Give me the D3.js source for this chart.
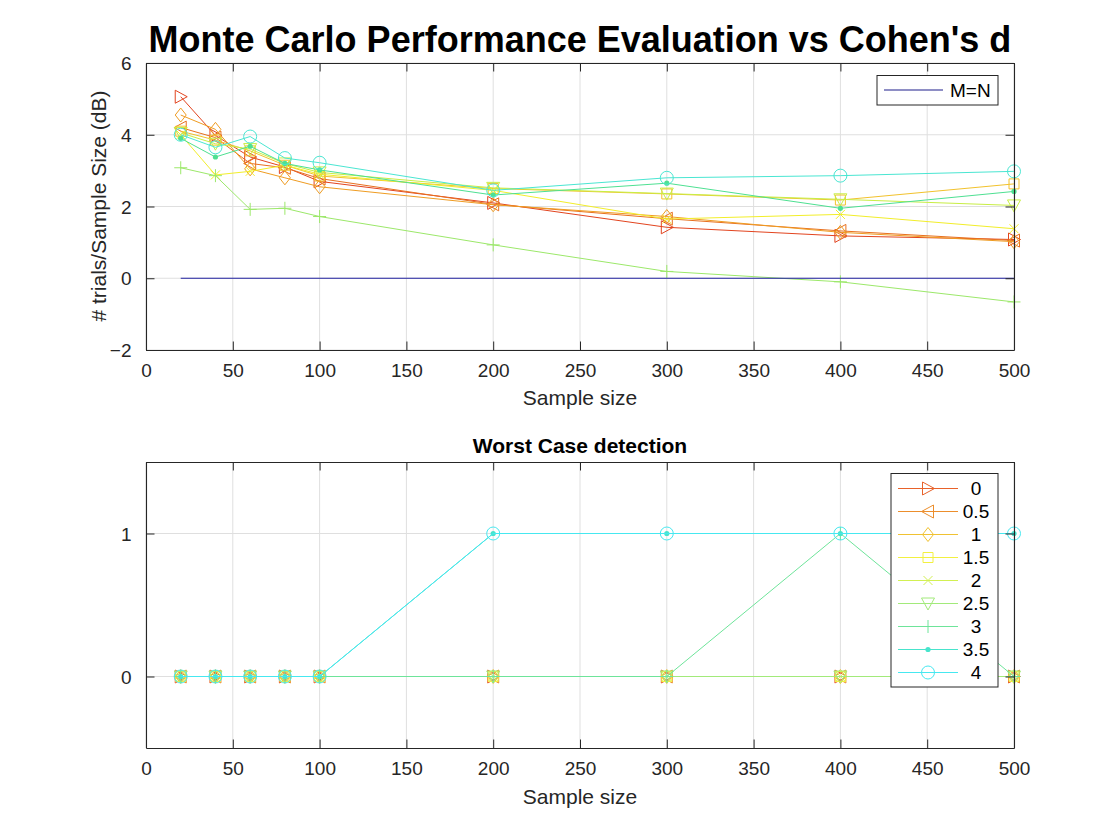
<!DOCTYPE html>
<html><head><meta charset="utf-8">
<script src="https://cdn.jsdelivr.net/npm/d3@7"></script>
<style>body{margin:0;background:#fff}svg{display:block}text{font-family:"Liberation Sans",Arial,sans-serif}</style>
</head><body>
<svg id="c" width="1120" height="840"></svg>
<script>
// ---------- data ----------
const sampleSizes = [20, 40, 60, 80, 100, 200, 300, 400, 500];
const cohenD = ["0", "0.5", "1", "1.5", "2", "2.5", "3", "3.5", "4"];
const markers = ["right", "left", "diamond", "square", "x", "down", "plus", "dot", "circle"];
const topColors = ["#e2441f", "#e8701f", "#ef9c22", "#f2c22c", "#f2ee2a", "#c8ee44", "#9ce86a", "#4ee092", "#4ae6d2"];
const botColors = ["#e8622a", "#ec8e2c", "#f0c232", "#f2f040", "#d2f052", "#a2ea7a", "#6ee49a", "#48e4cc", "#46e8f0"];
// top plot: # trials / sample size (dB)
const top0 = [5.06, 3.98, 3.38, 3.10, 2.70, 2.10, 1.42, 1.18, 1.08];
const top05 = [4.20, 3.92, 3.20, 3.08, 2.78, 2.06, 1.66, 1.32, 1.05];
const top1 = [4.55, 4.15, 3.05, 2.80, 2.55, 2.05, 1.72, 1.28, 1.02];
const top15 = [4.10, 3.85, 3.55, 3.15, 2.85, 2.50, 2.35, 2.18, 2.63];
const top2 = [4.00, 2.88, 2.98, 3.15, 2.90, 2.45, 1.65, 1.78, 1.38];
const top25 = [4.05, 3.75, 3.60, 3.20, 2.95, 2.52, 2.36, 2.20, 2.03];
const top3 = [3.08, 2.86, 1.92, 1.95, 1.72, 0.93, 0.19, -0.10, -0.66];
const top35 = [3.90, 3.38, 3.68, 3.20, 3.02, 2.32, 2.65, 1.95, 2.42];
const top4 = [4.00, 3.65, 3.95, 3.35, 3.22, 2.45, 2.80, 2.86, 2.98];
const topSeries = [top0, top05, top1, top15, top2, top25, top3, top35, top4];
const refLine = [0, 0]; // M=N from 20 to 500
const refX = [20, 500];
// bottom plot: worst case detection
const bot0 = [0, 0, 0, 0, 0, 0, 0, 0, 0];
const bot05 = [0, 0, 0, 0, 0, 0, 0, 0, 0];
const bot1 = [0, 0, 0, 0, 0, 0, 0, 0, 0];
const bot15 = [0, 0, 0, 0, 0, 0, 0, 0, 0];
const bot2 = [0, 0, 0, 0, 0, 0, 0, 0, 0];
const bot25 = [0, 0, 0, 0, 0, 0, 0, 0, 0];
const bot3 = [0, 0, 0, 0, 0, 0, 0, 1, 0];
const bot35 = [0, 0, 0, 0, 0, 1, 1, 1, 1];
const bot4 = [0, 0, 0, 0, 0, 1, 1, 1, 1];
const botSeries = [bot0, bot05, bot1, bot15, bot2, bot25, bot3, bot35, bot4];
const xTicks = [0, 50, 100, 150, 200, 250, 300, 350, 400, 450, 500];
const yTicksTop = [-2, 0, 2, 4, 6];
const yTicksBot = [0, 1];

// ---------- drawing ----------
const svg = d3.select("#c");
const axisColor = "#262626", gridColor = "#dfdfdf";

function marker(g, type, x, y, color) {
  const s = 6.5;
  let p;
  switch (type) {
    case "right": p = `M${x - s + 1},${y - s}L${x + s},${y}L${x - s + 1},${y + s}Z`; break;
    case "left": p = `M${x + s - 1},${y - s}L${x - s},${y}L${x + s - 1},${y + s}Z`; break;
    case "down": p = `M${x - s},${y - s + 1}L${x + s},${y - s + 1}L${x},${y + s}Z`; break;
    case "diamond": p = `M${x},${y - s - 0.5}L${x + s - 1},${y}L${x},${y + s + 0.5}L${x - s + 1},${y}Z`; break;
    case "square": p = `M${x - 5},${y - 5}h10v10h-10Z`; break;
    case "x": p = `M${x - 4.5},${y - 4.5}L${x + 4.5},${y + 4.5}M${x - 4.5},${y + 4.5}L${x + 4.5},${y - 4.5}`; break;
    case "plus": p = `M${x - 6.5},${y}H${x + 6.5}M${x},${y - 6.5}V${y + 6.5}`; break;
  }
  if (type === "circle") {
    g.append("circle").attr("cx", x).attr("cy", y).attr("r", 6.5).attr("fill", "none").attr("stroke", color).attr("stroke-width", 1);
  } else if (type === "dot") {
    g.append("circle").attr("cx", x).attr("cy", y).attr("r", 2.6).attr("fill", color);
  } else {
    g.append("path").attr("d", p).attr("fill", "none").attr("stroke", color).attr("stroke-width", 1);
  }
}

function drawGrid(x, y, yTicks) {
  const [x0, x1] = x.range(), [y0, y1] = y.range();
  const g = svg.append("g");
  g.selectAll(".gx").data(xTicks).join("line")
    .attr("x1", d => x(d)).attr("x2", d => x(d)).attr("y1", y0).attr("y2", y1)
    .attr("stroke", gridColor).attr("stroke-width", 1);
  g.selectAll(".gy").data(yTicks).join("line")
    .attr("x1", x0).attr("x2", x1).attr("y1", d => y(d)).attr("y2", d => y(d))
    .attr("stroke", gridColor).attr("stroke-width", 1);
}

function drawFrame(x, y, yTicks, fmtY) {
  const [x0, x1] = x.range(), [y0, y1] = y.range();
  const g = svg.append("g");
  const tl = 8.5;
  const bottom = g.append("g").attr("transform", `translate(0,${y0})`)
    .call(d3.axisBottom(x).tickValues(xTicks).tickSize(-tl).tickPadding(tl + 5).tickSizeOuter(0));
  g.append("g").attr("transform", `translate(0,${y1})`)
    .call(d3.axisTop(x).tickValues(xTicks).tickSize(-tl).tickFormat("").tickSizeOuter(0));
  const left = g.append("g").attr("transform", `translate(${x0},0)`)
    .call(d3.axisLeft(y).tickValues(yTicks).tickSize(-tl).tickPadding(tl + 6).tickFormat(fmtY).tickSizeOuter(0));
  g.append("g").attr("transform", `translate(${x1},0)`)
    .call(d3.axisRight(y).tickValues(yTicks).tickSize(-tl).tickFormat("").tickSizeOuter(0));
  g.selectAll(".domain").attr("stroke", axisColor).attr("stroke-width", 1.1);
  g.selectAll(".tick line").attr("stroke", axisColor);
  g.selectAll(".tick text").attr("font-size", 19).attr("fill", axisColor)
    .attr("font-family", '"Liberation Sans",Arial,sans-serif');
  left.selectAll(".tick text").attr("dy", "0.35em");
  bottom.selectAll(".tick text").attr("dy", "0.71em");
}

function drawSeries(x, y, series, colors) {
  const g = svg.append("g");
  const line = d3.line().x((d, i) => x(sampleSizes[i])).y(d => y(d));
  series.forEach((vals, k) => {
    g.append("path").attr("d", line(vals)).attr("fill", "none").attr("stroke", colors[k]).attr("stroke-width", 1);
    vals.forEach((v, i) => marker(g, markers[k], x(sampleSizes[i]), y(v), colors[k]));
  });
}

// ---------- top plot ----------
const xT = d3.scaleLinear().domain([0, 500]).range([146, 1014]);
const yT = d3.scaleLinear().domain([-2, 6]).range([350, 63]);
drawGrid(xT, yT, yTicksTop);
drawSeries(xT, yT, topSeries, topColors);
svg.append("path")
  .attr("d", d3.line().x((d, i) => xT(refX[i])).y(d => yT(d))(refLine))
  .attr("stroke", "#2020a0").attr("stroke-width", 1.1).attr("fill", "none");
drawFrame(xT, yT, yTicksTop, d3.format("d"));

// top legend
const lg1 = svg.append("g");
lg1.append("rect").attr("x", 877).attr("y", 75.5).attr("width", 121).attr("height", 29.5)
  .attr("fill", "#fff").attr("stroke", axisColor).attr("stroke-width", 1);
lg1.append("line").attr("x1", 884).attr("x2", 943).attr("y1", 90).attr("y2", 90).attr("stroke", "#1e1e8c").attr("stroke-width", 1.1);
lg1.append("text").attr("x", 950).attr("y", 90).attr("dy", "0.35em").attr("font-size", 19).attr("fill", "#000").text("M=N");

// titles / labels top
svg.append("text").attr("x", 580).attr("y", 52).attr("text-anchor", "middle")
  .attr("font-size", 36).attr("font-weight", "bold").attr("fill", "#000")
  .text("Monte Carlo Performance Evaluation vs Cohen's d");
svg.append("text").attr("x", 580).attr("y", 405).attr("text-anchor", "middle").attr("font-size", 21).attr("fill", axisColor).text("Sample size");
svg.append("text").attr("transform", "translate(106,206) rotate(-90)").attr("text-anchor", "middle")
  .attr("font-size", 21).attr("fill", axisColor).text("# trials/Sample Size (dB)");

// ---------- bottom plot ----------
const xB = d3.scaleLinear().domain([0, 500]).range([146, 1014]);
const yB = d3.scaleLinear().domain([-0.5, 1.5]).range([748, 462]);
drawGrid(xB, yB, yTicksBot);
drawSeries(xB, yB, botSeries, botColors);
drawFrame(xB, yB, yTicksBot, d3.format("d"));

svg.append("text").attr("x", 580).attr("y", 453).attr("text-anchor", "middle")
  .attr("font-size", 21).attr("font-weight", "bold").attr("fill", "#000").text("Worst Case detection");
svg.append("text").attr("x", 580).attr("y", 804).attr("text-anchor", "middle").attr("font-size", 21).attr("fill", axisColor).text("Sample size");

// bottom legend
const lg2 = svg.append("g");
lg2.append("rect").attr("x", 891).attr("y", 473.5).attr("width", 107).attr("height", 213.5)
  .attr("fill", "#fff").attr("stroke", axisColor).attr("stroke-width", 1);
cohenD.forEach((lab, k) => {
  const yy = 488.5 + k * 23;
  lg2.append("line").attr("x1", 898).attr("x2", 958).attr("y1", yy).attr("y2", yy).attr("stroke", botColors[k]).attr("stroke-width", 1);
  marker(lg2, markers[k], 928, yy, botColors[k]);
  lg2.append("text").attr("x", 976).attr("y", yy).attr("dy", "0.35em").attr("text-anchor", "middle").attr("font-size", 19).attr("fill", "#000").text(lab);
});
</script>
</body></html>
